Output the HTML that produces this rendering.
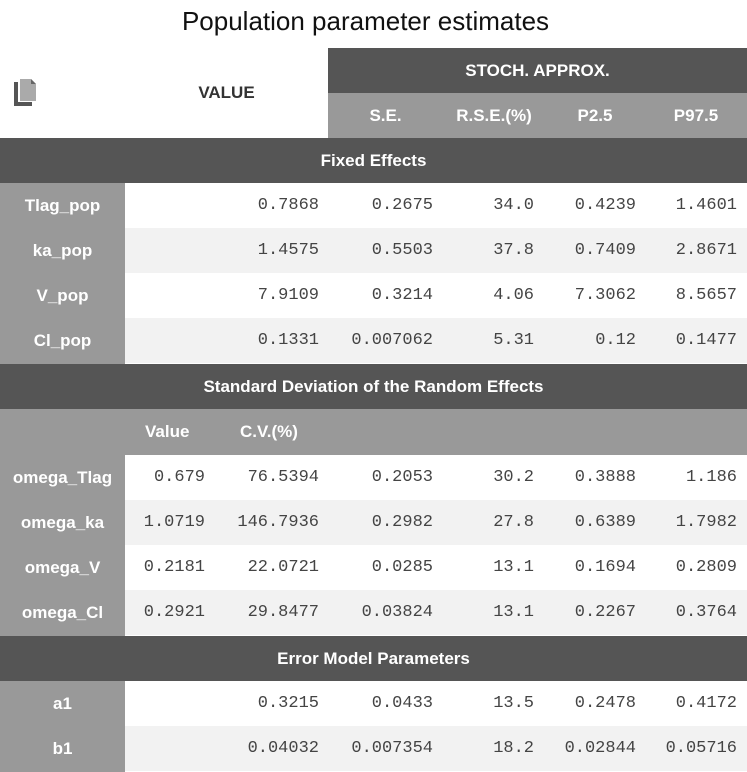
<!DOCTYPE html>
<html><head><meta charset="utf-8"><style>
body{margin:0;width:747px;height:772px;background:#fff;position:relative;overflow:hidden;font-family:"Liberation Sans",sans-serif}
.t{position:absolute;left:0;width:731px;top:6px;text-align:center;font-size:26px;color:#111}
.b{position:absolute;box-sizing:border-box}
.h{font-weight:bold;color:#fff;font-size:17px;display:flex;align-items:center;justify-content:center}
.n{font-family:"Liberation Mono",monospace;font-size:17px;color:#444;text-align:right;display:flex;align-items:center;justify-content:flex-end}
</style></head><body>
<div class="t">Population parameter estimates</div>
<svg class="b" style="left:13px;top:78px" width="26" height="30"><path d="M1 4h4v20h14v4H1z" fill="#555"/><path d="M7 1h11l5 5v17H7z" fill="#aaa"/><path d="M18 1v5h5z" fill="#666"/></svg>
<div class="b h" style="left:125px;top:48px;width:203px;height:90px;color:#333">VALUE</div>
<div class="b h" style="left:328px;top:48px;width:419px;height:45px;background:#555">STOCH. APPROX.</div>
<div class="b h" style="left:328px;top:93px;width:419px;height:45px;background:#999"></div>
<div class="b h" style="left:328px;top:93px;width:115px;height:45px">S.E.</div>
<div class="b h" style="left:443px;top:93px;width:102px;height:45px">R.S.E.(%)</div>
<div class="b h" style="left:545px;top:93px;width:100px;height:45px">P2.5</div>
<div class="b h" style="left:645px;top:93px;width:102px;height:45px">P97.5</div>
<div id="rows"></div>
<script>
var R=document.getElementById('rows'),h='';
function band(y,t){h+='<div class="b h" style="left:0;top:'+y+'px;width:747px;height:45px;background:#555">'+t+'</div>';}
function row(y,l,v,alt){
 h+='<div class="b" style="left:125px;top:'+y+'px;width:622px;height:45px;background:'+(alt?'#f2f2f2':'#fff')+'"></div>';
 h+='<div class="b h" style="left:0;top:'+y+'px;width:125px;height:46px;background:#999">'+l+'</div>';
 var r=v.length==6?[205,319,433,534,636,737]:[319,433,534,636,737];
 for(var i=0;i<v.length;i++)h+='<div class="b n" style="left:'+(r[i]-130)+'px;top:'+y+'px;width:130px;height:45px">'+v[i]+'</div>';
}
band(138,'Fixed Effects');
row(183,'Tlag_pop',['0.7868','0.2675','34.0','0.4239','1.4601'],0);
row(228,'ka_pop',['1.4575','0.5503','37.8','0.7409','2.8671'],1);
row(273,'V_pop',['7.9109','0.3214','4.06','7.3062','8.5657'],0);
row(318,'Cl_pop',['0.1331','0.007062','5.31','0.12','0.1477'],1);
band(364,'Standard Deviation of the Random Effects');
h+='<div class="b" style="left:0;top:409px;width:747px;height:46px;background:#999"></div>';
h+='<div class="b h" style="left:145px;top:409px;width:60px;height:46px;justify-content:flex-start">Value</div>';
h+='<div class="b h" style="left:240px;top:409px;width:80px;height:46px;justify-content:flex-start">C.V.(%)</div>';
row(455,'omega_Tlag',['0.679','76.5394','0.2053','30.2','0.3888','1.186'],0);
row(500,'omega_ka',['1.0719','146.7936','0.2982','27.8','0.6389','1.7982'],1);
row(545,'omega_V',['0.2181','22.0721','0.0285','13.1','0.1694','0.2809'],0);
row(590,'omega_Cl',['0.2921','29.8477','0.03824','13.1','0.2267','0.3764'],1);
band(636,'Error Model Parameters');
row(681,'a1',['0.3215','0.0433','13.5','0.2478','0.4172'],0);
row(726,'b1',['0.04032','0.007354','18.2','0.02844','0.05716'],1);
R.innerHTML=h;
</script>
</body></html>
